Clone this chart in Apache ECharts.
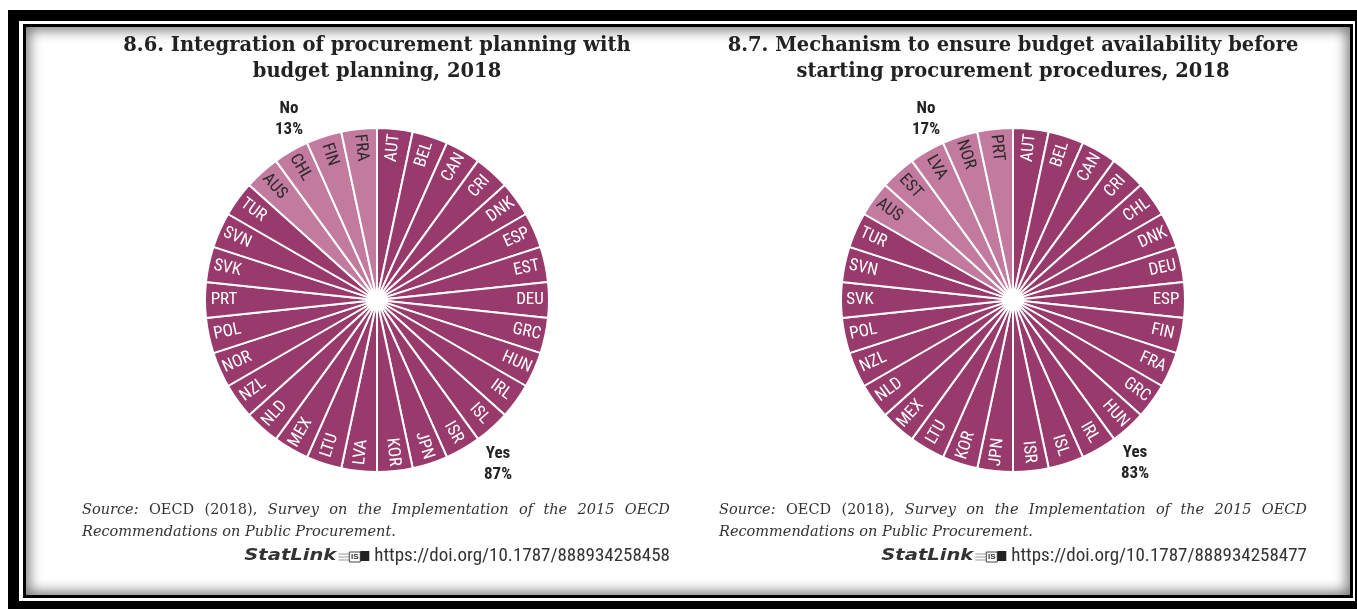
<!DOCTYPE html>
<html>
<head>
<meta charset="utf-8">
<script src="https://cdn.jsdelivr.net/npm/echarts@6/dist/echarts.min.js"></script>
<style>
  html, body { margin: 0; padding: 0; background: #fff; width: 1357px; height: 609px; overflow: hidden; position: relative; }
  #outerFrame { position: absolute; left: 8px; top: 10px; width: 1358px; height: 602px; border: 11px solid #000; box-sizing: border-box; }
  #innerFrame { position: absolute; left: 23px; top: 24px; width: 1330px; height: 574px; border: 3px solid #000; box-sizing: border-box;
                box-shadow: inset 0 0 13px 3px rgba(0,0,0,0.55); background: #fff; }
  #chart { position: absolute; left: 0; top: 0; width: 1357px; height: 609px; z-index: 2; }
</style>
</head>
<body>
<div id="outerFrame"></div>
<div id="innerFrame"></div>
<div id="chart"></div>
<script>
// ---- Data -------------------------------------------------------------
// 8.6 Integration of procurement planning with budget planning, 2018
const countries86 = ['AUT','BEL','CAN','CRI','DNK','ESP','EST','DEU','GRC','HUN','IRL','ISL','ISR','JPN','KOR',
                     'LVA','LTU','MEX','NLD','NZL','NOR','POL','PRT','SVK','SVN','TUR','AUS','CHL','FIN','FRA'];
const answers86   = ['Yes','Yes','Yes','Yes','Yes','Yes','Yes','Yes','Yes','Yes','Yes','Yes','Yes','Yes','Yes',
                     'Yes','Yes','Yes','Yes','Yes','Yes','Yes','Yes','Yes','Yes','Yes','No','No','No','No'];

// 8.7 Mechanism to ensure budget availability before starting procurement procedures, 2018
const countries87 = ['AUT','BEL','CAN','CRI','CHL','DNK','DEU','ESP','FIN','FRA','GRC','HUN','IRL','ISL','ISR',
                     'JPN','KOR','LTU','MEX','NLD','NZL','POL','SVK','SVN','TUR','AUS','EST','LVA','NOR','PRT'];
const answers87   = ['Yes','Yes','Yes','Yes','Yes','Yes','Yes','Yes','Yes','Yes','Yes','Yes','Yes','Yes','Yes',
                     'Yes','Yes','Yes','Yes','Yes','Yes','Yes','Yes','Yes','Yes','No','No','No','No','No'];

const titles86 = ['8.6. Integration of procurement planning with', 'budget planning, 2018'];
const titles87 = ['8.7. Mechanism to ensure budget availability before', 'starting procurement procedures, 2018'];
const statLinks = ['https://doi.org/10.1787/888934258458', 'https://doi.org/10.1787/888934258477'];

// ---- Styling ----------------------------------------------------------
const COLOR = { Yes: '#993a6c', No: '#c27a9f' };
const LABEL_COLOR = { Yes: '#ffffff', No: '#2b2b2b' };
const NARROW = "'Liberation Sans Narrow', 'Roboto Condensed', 'Liberation Sans', sans-serif";
const SERIF = "'DejaVu Serif', 'Liberation Serif', serif";
const R = 172;

function share(answers, key) {
  return Math.round(answers.filter(a => a === key).length / answers.length * 100);
}

function pieSeries(countries, answers, cx, cy) {
  const data = countries.map((c, i) => ({
    name: c, value: 1,
    itemStyle: { color: COLOR[answers[i]] },
    label: { color: LABEL_COLOR[answers[i]] }
  }));
  return [
    { // slices
      type: 'pie', center: [cx, cy], radius: [10, R], startAngle: 90, clockwise: true,
      silent: true, animation: false, label: { show: false }, labelLine: { show: false },
      itemStyle: { borderColor: '#ffffff', borderWidth: 2 },
      data: data
    },
    { // country codes, set radially near the rim
      type: 'pie', center: [cx, cy], radius: [128, R], startAngle: 90, clockwise: true,
      silent: true, animation: false, labelLine: { show: false },
      itemStyle: { color: 'rgba(0,0,0,0)', borderWidth: 0 },
      label: { show: true, position: 'inside', rotate: 'radial', formatter: '{b}',
               fontFamily: NARROW, fontSize: 17 },
      data: data.map(d => ({ name: d.name, value: 1, label: d.label }))
    }
  ];
}

// ---- Text blocks ------------------------------------------------------
const measureCtx = document.createElement('canvas').getContext('2d');
function textWidth(str, font) { measureCtx.font = font; return measureCtx.measureText(str).width; }

const SRC_SIZE = 14.5;
function srcFont(italic) { return (italic ? 'italic ' : '') + SRC_SIZE + 'px ' + SERIF; }

function sourceBlock(x0, x1, yTop, url) {
  const els = [];
  // justified first line
  const words = [['Source:', true], ['OECD', false], ['(2018),', false], ['Survey', true], ['on', true], ['the', true],
                 ['Implementation', true], ['of', true], ['the', true], ['2015', true], ['OECD', true]];
  const widths = words.map(w => textWidth(w[0], srcFont(w[1])));
  const total = widths.reduce((a, b) => a + b, 0);
  const gap = (x1 - x0 - total) / (words.length - 1);
  let x = x0;
  words.forEach((w, i) => {
    els.push({ type: 'text', x: x, y: yTop, style: { text: w[0], font: srcFont(w[1]), fill: '#333', textVerticalAlign: 'top' } });
    x += widths[i] + gap;
  });
  els.push({ type: 'text', x: x0, y: yTop + 22, style: { text: 'Recommendations on Public Procurement.', font: srcFont(true), fill: '#333', textVerticalAlign: 'top' } });

  // StatLink line, right aligned
  const urlFont = '19px ' + NARROW;
  const urlW = textWidth(url, urlFont);
  const urlX = x1 - urlW;
  els.push({ type: 'text', x: urlX, y: yTop + 44, style: { text: url, font: urlFont, fill: '#333', textVerticalAlign: 'top' } });
  const lx = urlX - 36;
  // small StatLink logo
  els.push({ type: 'group', x: lx, y: yTop + 48, children: [
    { type: 'polyline', shape: { points: [[0, 3], [11, 3]] }, style: { stroke: '#9a9a9a', lineWidth: 1 } },
    { type: 'polyline', shape: { points: [[0, 6], [11, 6]] }, style: { stroke: '#9a9a9a', lineWidth: 1 } },
    { type: 'polyline', shape: { points: [[0, 9], [11, 9]] }, style: { stroke: '#9a9a9a', lineWidth: 1 } },
    { type: 'rect', shape: { x: 11, y: 1, width: 11, height: 10 }, style: { fill: '#fff', stroke: '#444', lineWidth: 1 } },
    { type: 'text', x: 16.5, y: 6, style: { text: 'IS', font: 'bold 8px sans-serif', fill: '#333', textAlign: 'center', textVerticalAlign: 'middle' } },
    { type: 'rect', shape: { x: 22, y: 0, width: 9, height: 10 }, style: { fill: '#222' } }
  ] });
  const slFont = 'italic bold 15px "DejaVu Sans", sans-serif';
  const slW = textWidth('StatLink', slFont);
  els.push({ type: 'text', x: lx - 2, y: yTop + 46, scaleX: 92 / slW, originX: 0,
             style: { text: 'StatLink', font: slFont, fill: '#333', textAlign: 'right', textVerticalAlign: 'top' } });
  return els;
}

function titleBlock(lines, cx) {
  return lines.map((t, i) => ({
    type: 'text', x: cx, y: 36 + i * 26,
    style: { text: t, font: 'bold 19.5px ' + SERIF, fill: '#222', textAlign: 'center', textVerticalAlign: 'top' }
  }));
}

function shareLabel(word, pct, x, y) {
  return {
    type: 'text', x: x, y: y,
    style: { text: word + '\n' + pct + '%', font: 'bold 17px ' + NARROW, lineHeight: 21, fill: '#222',
             textAlign: 'center', textVerticalAlign: 'top' }
  };
}

const L = { cx: 377, cy: 300 };
const Rt = { cx: 1013, cy: 300 };

const graphics = [].concat(
  titleBlock(titles86, L.cx),
  titleBlock(titles87, Rt.cx),
  [shareLabel('No', share(answers86, 'No'), 289, 98),
   shareLabel('Yes', share(answers86, 'Yes'), 498, 443),
   shareLabel('No', share(answers87, 'No'), 926, 98),
   shareLabel('Yes', share(answers87, 'Yes'), 1135, 442)],
  sourceBlock(82, 670, 503, statLinks[0]),
  sourceBlock(719, 1307, 503, statLinks[1])
);

const chart = echarts.init(document.getElementById('chart'), null, { renderer: 'canvas' });
chart.setOption({
  backgroundColor: 'transparent',
  animation: false,
  series: [].concat(
    pieSeries(countries86, answers86, L.cx, L.cy),
    pieSeries(countries87, answers87, Rt.cx, Rt.cy)
  ),
  graphic: { elements: graphics }
});
</script>
</body>
</html>
